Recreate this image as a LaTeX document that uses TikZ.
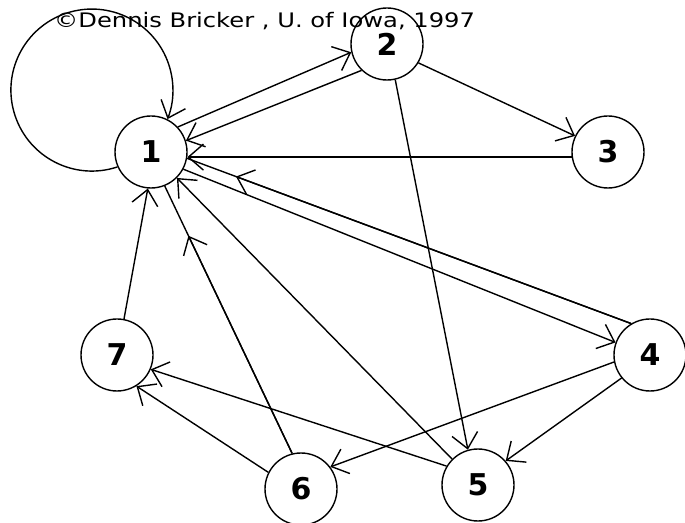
\documentclass[tikz,border=0pt]{standalone}
\usepackage{fontspec}
\setsansfont{DejaVu Sans}
\usetikzlibrary{arrows.meta}

\begin{document}
\begin{tikzpicture}[x=1pt, y=1pt,
    vertex/.style={draw, circle, line width=1.4pt, minimum size=72pt,
                   inner sep=0pt, font=\sffamily\bfseries\fontsize{30}{30}\selectfont},
    link/.style={line width=1.4pt},
    arrowlink/.style={link, -{Straight Barb[length=15pt, width=26pt]}}]

  \useasboundingbox (0,0) rectangle (685,522);

  %                   x,y
  \node [vertex] (n1) at (151,370) {1};
  \node [vertex] (n2) at (387,478) {2};
  \node [vertex] (n3) at (608,370) {3};
  \node [vertex] (n4) at (650,167) {4};
  \node [vertex] (n5) at (478,37)  {5};
  \node [vertex] (n6) at (301,33)  {6};
  \node [vertex] (n7) at (117,167) {7};

  \node [anchor=base west, inner sep=0pt, xscale=1.21,
         font=\sffamily\fontsize{20}{20}\selectfont] (credit) at (54,494)
        {\textcopyright Dennis Bricker , U. of Iowa, 1997};

  % loop on node 1
  \draw [arrowlink] (n1.204) arc [start angle=-71.6, end angle=-381, radius=81];

  \draw [arrowlink] (n1.43)  -- (n2.193);
  \draw [arrowlink] (n2.226) -- (n1.18);
  \draw [arrowlink] (n2.-31) -- (n3.154);
  \draw [arrowlink] (n3.188) -- (n1.-8);
  \draw [arrowlink] (n2.-77) -- (n5.106);
  \draw [arrowlink] (n1.-28) -- (n4.160);
  \draw [arrowlink] (n4.219) -- (n5.41);
  \draw [arrowlink] (n4.191) -- (n6.37);
  \draw [arrowlink] (n5.135) -- (n1.-45);
  \draw [arrowlink] (n5.149) -- (n7.-23);
  \draw [arrowlink] (n6.153) -- (n7.-58);
  \draw [arrowlink] (n7.79)  -- (n1.-95);

  % these two carry their heads short of node 1
  \draw [link] (n4.121) -- coordinate [pos=0.89] (t41) (n1.-10);
  \draw [arrowlink] (n4.121) -- (t41);
  \draw [link] (n6.104) -- coordinate [pos=0.814] (t61) (n1.-68);
  \draw [arrowlink] (n6.104) -- (t61);

\end{tikzpicture}
\end{document}
